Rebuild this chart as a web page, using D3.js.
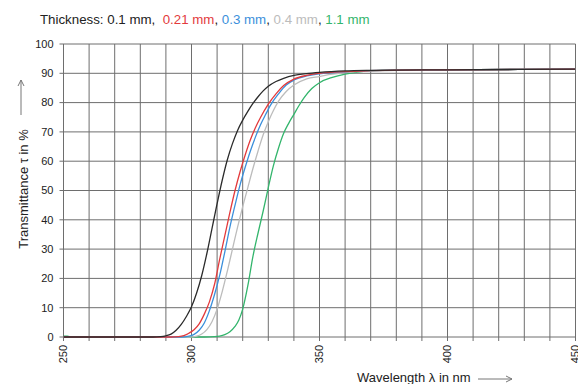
<!DOCTYPE html>
<html><head><meta charset="utf-8">
<script src="https://cdn.jsdelivr.net/npm/d3@7"></script>
<style>
body{margin:0;background:#fff}
text{font-family:"Liberation Sans",Arial,sans-serif;fill:#222}
</style>
</head><body>
<svg id="chart" width="578" height="384"></svg>
<script>
// ---- data ----
const xTickLabels = [250, 300, 350, 400, 450];
const yTickLabels = [0, 10, 20, 30, 40, 50, 60, 70, 80, 90, 100];
const thicknessLabels = ["0.1 mm", "0.21 mm", "0.3 mm", "0.4 mm", "1.1 mm"];
const seriesColors = ["#2b2b2b", "#e33a3c", "#3b8fdb", "#bcbcbc", "#33b56c"];

const nm01  = [250, 285, 288, 290, 292, 294, 296, 298, 300, 302, 304, 306, 308, 310, 312, 314, 316, 318, 320, 322, 324, 326, 328, 330, 333, 336, 340, 345, 350, 360, 370, 380, 400, 450];
const t01   = [0,   0,   0.1, 0.4, 1,   2.3, 4.3, 7,   10.3, 15, 21,  28.5, 37, 45.5, 53.5, 60.5, 66, 70.5, 74,  77,  79.7, 82,  84,  85.6, 87.2, 88.3, 89.3, 89.9, 90.3, 90.8, 91.0, 91.1, 91.2, 91.4];

const nm021 = [250, 292, 295, 297, 299, 301, 303, 305, 307, 309, 311, 313, 315, 317, 319, 321, 323, 325, 327, 330, 333, 336, 340, 345, 350, 360, 370, 380, 400, 450];
const t021  = [0,   0,   0.15, 0.5, 1.3, 2.5, 4.5, 7.8, 12, 18,  26.5, 34.5, 42.5, 50, 56.5, 62.2, 67.3, 71.5, 75, 79.5, 83, 85.8, 88, 89.3, 90,  90.6, 90.9, 91.1, 91.2, 91.4];

const nm03  = [250, 296, 299, 301, 303, 305, 307, 309, 311, 313, 315, 317, 319, 321, 323, 325, 327, 329, 331, 334, 337, 340, 345, 350, 360, 370, 380, 400, 450];
const t03   = [0,   0,   0.3, 0.9, 2.3, 4.8, 9,   14.5, 21, 29,  37.5, 45, 52,  58,  63.5, 68.3, 72.5, 76, 79.3, 83,  86,  87.7, 89.1, 89.8, 90.5, 90.9, 91.1, 91.2, 91.4];

const nm04  = [250, 299, 302, 304, 306, 308, 310, 312, 314, 316, 318, 320, 322, 324, 326, 328, 330, 332, 334, 337, 340, 345, 350, 355, 360, 370, 380, 400, 450];
const t04   = [0,   0,   0.3, 1,   2.5, 5.2, 9.5, 15.5, 22.5, 30, 37.5, 44.5, 51, 57.5, 63.5, 69, 73.5, 77.3, 80.5, 83.8, 86, 88.1, 88.9, 89.7, 90.2, 90.8, 91.0, 91.2, 91.4];

const nm11  = [250, 251.5, 253.5, 305, 309, 311, 313, 315, 317, 318.5, 320, 322, 324, 326, 328, 330, 332, 334, 336, 338, 340, 342, 344, 347, 350, 355, 360, 365, 370, 380, 400, 450];
const t11   = [0.3, 0.25,  0,     0,   0.1, 0.3, 0.8, 1.8, 3.6, 5.8,   9.5, 17.5, 27.5, 35.5, 43, 51, 58.5, 64.5, 69.5, 73, 76,  79,  81.7, 84.8, 86.8, 88.6, 89.7, 90.4, 90.8, 91.1, 91.2, 91.4];

const seriesNm = [nm01, nm021, nm03, nm04, nm11];
const seriesT  = [t01, t021, t03, t04, t11];

// ---- layout ----
const svg = d3.select("#chart");
const x = d3.scaleLinear().domain([250, 450]).range([63.5, 575.5]);
const y = d3.scaleLinear().domain([0, 100]).range([337, 44]);

// grid
const grid = svg.append("g").attr("stroke", "#6e6e6e").attr("stroke-width", 1);
grid.selectAll("line.v").data(d3.range(250, 451, 10)).join("line")
  .attr("x1", d => x(d)).attr("x2", d => x(d))
  .attr("y1", y(100)).attr("y2", y(0) + 4);
grid.selectAll("line.h").data(yTickLabels).join("line")
  .attr("x1", x(250) - 4).attr("x2", x(450))
  .attr("y1", d => y(d)).attr("y2", d => y(d));

// y tick labels
svg.append("g").selectAll("text").data(yTickLabels).join("text")
  .attr("x", x(250) - 10).attr("y", d => y(d)).attr("dy", "0.35em")
  .attr("text-anchor", "end").attr("font-size", 11).text(d => d);

// x tick labels (rotated)
svg.append("g").selectAll("text").data(xTickLabels).join("text")
  .attr("transform", d => `translate(${x(d)},${y(0) + 8}) rotate(-90)`)
  .attr("dy", "0.35em").attr("text-anchor", "end").attr("font-size", 11).text(d => d);

// curves
svg.append("clipPath").attr("id", "clip").append("rect")
  .attr("x", x(250)).attr("y", y(100) - 2).attr("width", x(450) - x(250)).attr("height", y(0) - y(100) + 4);
const line = d3.line().x(d => x(d[0])).y(d => y(d[1])).curve(d3.curveMonotoneX);
const curves = svg.append("g").attr("clip-path", "url(#clip)");
[4, 3, 2, 1, 0].forEach(i => {
  const pts = seriesNm[i].map((n, k) => [n, seriesT[i][k]]);
  curves.append("path").datum(pts).attr("d", line)
    .attr("fill", "none").attr("stroke", seriesColors[i]).attr("stroke-width", 1.3);
});

// title
const title = svg.append("text").attr("x", 40).attr("y", 24).attr("font-size", 13.3).attr("xml:space", "preserve");
title.append("tspan").text("Thickness: ");
thicknessLabels.forEach((lab, i) => {
  if (i > 0) title.append("tspan").text(i === 1 ? ",  " : ", ");
  title.append("tspan").style("fill", i === 0 ? "#222" : seriesColors[i]).text(lab);
});

// y axis title + arrow
svg.append("text").attr("transform", "translate(28,189) rotate(-90)")
  .attr("text-anchor", "middle").attr("font-size", 13).text("Transmittance τ in %");
svg.append("path").attr("d", "M21,115 L21,80 M18,86 L21,80 L24,86")
  .attr("fill", "none").attr("stroke", "#777").attr("stroke-width", 1);

// x axis title + arrow
svg.append("text").attr("x", 357).attr("y", 382).attr("font-size", 13).text("Wavelength λ in nm");
svg.append("path").attr("d", "M478,379 L512,379 M506,376 L512,379 L506,382")
  .attr("fill", "none").attr("stroke", "#777").attr("stroke-width", 1);
</script>
</body></html>
